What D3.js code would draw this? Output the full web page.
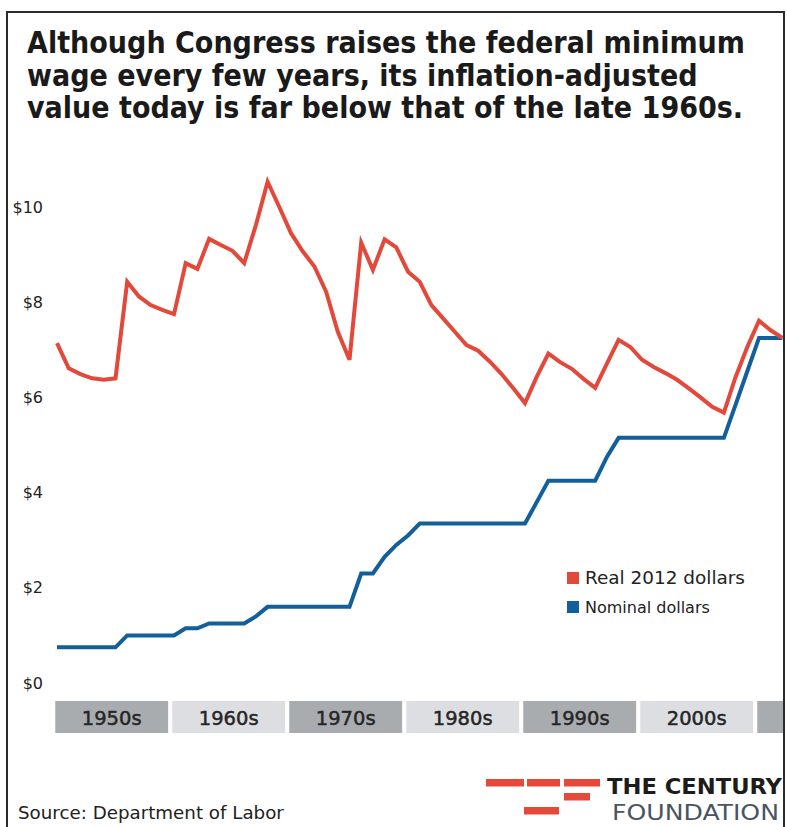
<!DOCTYPE html>
<html>
<head>
<meta charset="utf-8">
<script src="https://cdn.jsdelivr.net/npm/d3@7"></script>
<style>
  html, body { margin: 0; padding: 0; background: #fff; }
  svg { display: block; }
</style>
</head>
<body>
<svg id="chart" width="787" height="827"></svg>
<script>
// ---------------- DATA ----------------
const years = [1950,1951,1952,1953,1954,1955,1956,1957,1958,1959,
               1960,1961,1962,1963,1964,1965,1966,1967,1968,1969,
               1970,1971,1972,1973,1974,1975,1976,1977,1978,1979,
               1980,1981,1982,1983,1984,1985,1986,1987,1988,1989,
               1990,1991,1992,1993,1994,1995,1996,1997,1998,1999,
               2000,2001,2002,2003,2004,2005,2006,2007,2008,2009,
               2010,2011,2012];
const realValues = [7.14,6.61,6.49,6.40,6.37,6.40,8.43,8.12,7.94,7.84,
                    7.75,8.82,8.70,9.33,9.20,9.08,8.82,9.62,10.53,10.00,
                    9.45,9.07,8.75,8.22,7.38,6.79,9.25,8.68,9.32,9.15,
                    8.64,8.43,7.94,7.66,7.38,7.10,6.98,6.75,6.49,6.19,
                    5.88,6.43,6.92,6.74,6.60,6.39,6.20,6.71,7.21,7.06,
                    6.79,6.64,6.51,6.37,6.19,6.00,5.80,5.68,6.43,7.06,
                    7.61,7.41,7.25];
const nominalValues = [0.75,0.75,0.75,0.75,0.75,0.75,1.00,1.00,1.00,1.00,
                       1.00,1.15,1.15,1.25,1.25,1.25,1.25,1.40,1.60,1.60,
                       1.60,1.60,1.60,1.60,1.60,1.60,2.30,2.30,2.65,2.90,
                       3.10,3.35,3.35,3.35,3.35,3.35,3.35,3.35,3.35,3.35,
                       3.35,3.80,4.25,4.25,4.25,4.25,4.25,4.75,5.15,5.15,
                       5.15,5.15,5.15,5.15,5.15,5.15,5.15,5.15,5.85,6.55,
                       7.25,7.25,7.25];
const yTicks = [0, 2, 4, 6, 8, 10];
const yTickLabels = ["$0", "$2", "$4", "$6", "$8", "$10"];
const decadeStarts = [1950, 1960, 1970, 1980, 1990, 2000, 2010];
const decadeLabels = ["1950s", "1960s", "1970s", "1980s", "1990s", "2000s", ""];
const seriesNames = ["Real 2012 dollars", "Nominal dollars"];
const titleLines = ["Although Congress raises the federal minimum",
                    "wage every few years, its inflation-adjusted",
                    "value today is far below that of the late 1960s."];
const sourceText = "Source: Department of Labor";
const logoLines = ["THE CENTURY", "FOUNDATION"];

// ---------------- STYLE ----------------
const RED = "#e2493b", BLUE = "#135f9c";
const BAND_DARK = "#a9acaf", BAND_LIGHT = "#dcdee1";
const FONT = "'DejaVu Sans', sans-serif";
const FONT_C = "'DejaVu Sans Condensed', 'DejaVu Sans', sans-serif";

const svg = d3.select("#chart");

function fit(sel, target) {
  const fs = parseFloat(sel.attr("font-size"));
  const w = sel.node().getComputedTextLength();
  if (w > 0) sel.attr("font-size", (fs * target / w).toFixed(2));
  return sel;
}

// frame background
svg.append("rect").attr("x", 7).attr("y", 12).attr("width", 777).attr("height", 900)
  .attr("fill", "#fff");

// title
const tBase = [53, 85.5, 118];
const t0 = svg.append("text").attr("x", 27).attr("y", tBase[0])
  .attr("font-family", FONT_C).attr("font-weight", "bold").attr("font-size", 26)
  .attr("fill", "#1a1a1a").text(titleLines[0]);
fit(t0, 718);
const tfs = t0.attr("font-size");
titleLines.slice(1).forEach((l, i) => {
  svg.append("text").attr("x", 27).attr("y", tBase[i + 1])
    .attr("font-family", FONT_C).attr("font-weight", "bold").attr("font-size", tfs)
    .attr("fill", "#1a1a1a").text(l);
});

// scales
const x = d3.scaleLinear().domain([1950, 2012]).range([57, 782.4]);
const y = d3.scaleLinear().domain([0, 10]).range([683, 207]);

// decade bands
const bandG = svg.append("g");
decadeStarts.forEach((d, i) => {
  const x0 = x(d - 0.15);
  const x1 = Math.min(x(d + 9.5), 783);
  bandG.append("rect").attr("x", x0).attr("y", 701).attr("width", x1 - x0).attr("height", 32)
    .attr("fill", i % 2 === 0 ? BAND_DARK : BAND_LIGHT);
  if (decadeLabels[i]) {
    bandG.append("text").attr("x", (x0 + x1) / 2).attr("y", 724.5)
      .attr("text-anchor", "middle").attr("font-family", FONT).attr("font-size", 19.5)
      .attr("fill", "#262626").attr("stroke", "#262626").attr("stroke-width", 0.5)
      .text(decadeLabels[i]);
  }
});

// y axis
const yAxis = d3.axisLeft(y).tickValues(yTicks)
  .tickFormat((d, i) => yTickLabels[i]).tickSize(0).tickPadding(0);
const ya = svg.append("g").attr("transform", "translate(43,0)").call(yAxis);
ya.select(".domain").remove();
ya.selectAll("text").attr("font-family", FONT).attr("font-size", 16).attr("fill", "#222");

// lines
const rows = years.map((yr, i) => ({ year: yr, real: realValues[i], nominal: nominalValues[i] }));
const lineReal = d3.line().x(d => x(d.year)).y(d => y(d.real));
const lineNom = d3.line().x(d => x(d.year)).y(d => y(d.nominal));
svg.append("path").datum(rows).attr("d", lineNom).attr("fill", "none")
  .attr("stroke", BLUE).attr("stroke-width", 4).attr("stroke-linejoin", "miter");
svg.append("path").datum(rows).attr("d", lineReal).attr("fill", "none")
  .attr("stroke", RED).attr("stroke-width", 4).attr("stroke-linejoin", "miter");

// frame border on top
svg.append("rect").attr("x", 7).attr("y", 12).attr("width", 777).attr("height", 900)
  .attr("fill", "none").attr("stroke", "#2b2b2b").attr("stroke-width", 2);

// legend
const legColors = [RED, BLUE];
seriesNames.forEach((n, i) => {
  const ly = 572 + i * 29;
  svg.append("rect").attr("x", 567).attr("y", ly).attr("width", 12).attr("height", 12)
    .attr("fill", legColors[i]);
  const lt = svg.append("text").attr("x", 585).attr("y", ly + 12)
    .attr("font-family", FONT).attr("font-size", 16).attr("fill", "#222").text(n);
  if (i === 0) fit(lt, 160);
});

// source
const st = svg.append("text").attr("x", 18).attr("y", 819)
  .attr("font-family", FONT).attr("font-size", 17).attr("fill", "#222").text(sourceText);
fit(st, 266);

// logo
const logo = svg.append("g");
[[486, 779, 38], [527, 779, 33], [564, 779, 36], [564, 793, 26], [524, 807, 35]].forEach(b => {
  logo.append("rect").attr("x", b[0]).attr("y", b[1]).attr("width", b[2]).attr("height", 7.5)
    .attr("fill", "#e5493a");
});
logo.append("text").attr("x", 607).attr("y", 794)
  .attr("font-family", FONT_C).attr("font-weight", "bold").attr("font-size", 21)
  .attr("textLength", 175).attr("lengthAdjust", "spacingAndGlyphs")
  .attr("fill", "#1c1c1c").text(logoLines[0]);
logo.append("text").attr("x", 612).attr("y", 820)
  .attr("font-family", FONT_C).attr("font-size", 21)
  .attr("textLength", 167).attr("lengthAdjust", "spacingAndGlyphs")
  .attr("fill", "#4a5560").text(logoLines[1]);
</script>
</body>
</html>
